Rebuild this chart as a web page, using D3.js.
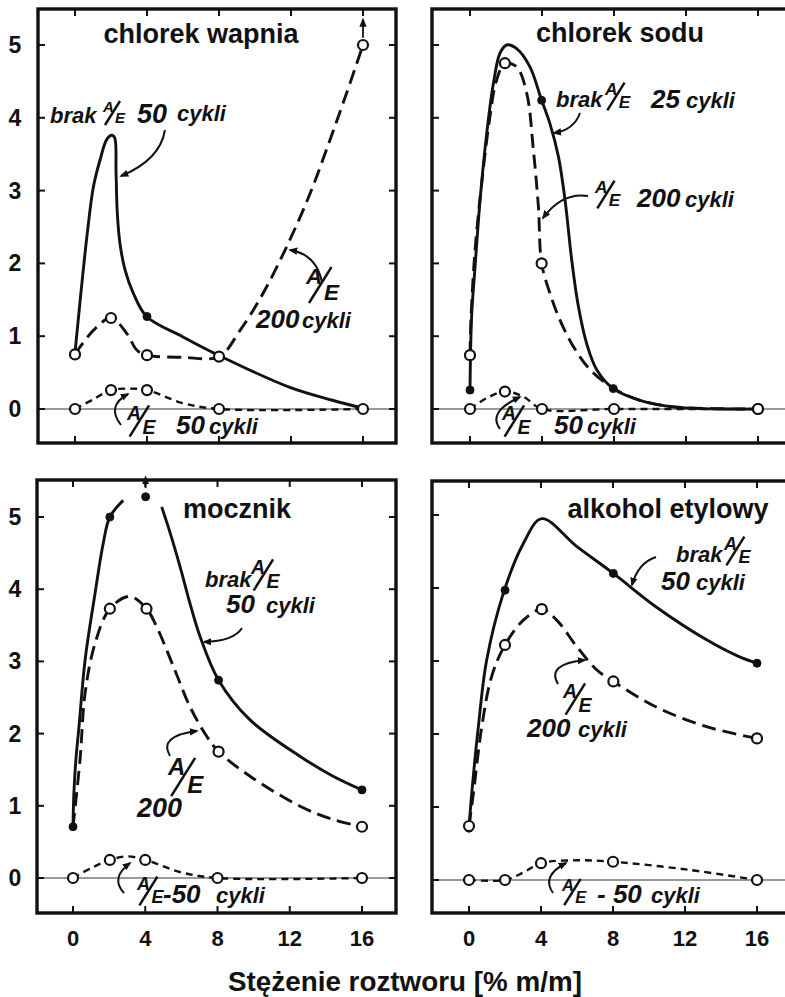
<!DOCTYPE html>
<html lang="pl">
<head>
<meta charset="UTF-8">
<title>Stężenie roztworu</title>
<script src="https://cdn.jsdelivr.net/npm/d3@7/dist/d3.min.js"></script>
<style>
  body { margin: 0; background: #fff; }
  svg text { font-family: "Liberation Sans", Arial, sans-serif; fill: #111; }
  .lab { font-style: italic; font-weight: bold; }
</style>
</head>
<body>
<svg id="chart" width="785" height="997"></svg>
<script>
// ---- data ----
var xTicks = [0, 4, 8, 12, 16];
var yTicks = [0, 1, 2, 3, 4, 5];
var panelTitles = ["chlorek wapnia", "chlorek sodu", "mocznik", "alkohol etylowy"];
var xTitle = "Stężenie roztworu [% m/m]";

// chlorek wapnia
var caNoAE = [[0,0.77],[0.33,1.6],[0.68,2.41],[1.02,3.05],[1.39,3.42],[1.76,3.70],[2.04,3.76],[2.2,3.73],[2.28,3.24],[2.35,2.69],[2.5,2.27],[2.78,1.91],[3.24,1.59],[3.98,1.27],[6.0,0.99],[7.96,0.74],[11.9,0.30],[14.3,0.12],[16,0.01]];
var caAE200 = [[0,0.75],[1.02,1.08],[2,1.25],[2.87,1.04],[3.43,0.81],[4,0.74],[6,0.71],[8,0.72],[9.17,1.08],[10.45,1.59],[11.76,2.23],[13.06,2.96],[14.17,3.70],[15.09,4.34],[16,5.0]];
var caAE50 = [[0,0],[1,0.13],[2,0.26],[3,0.28],[4,0.26],[6,0.08],[8,0],[16,0]];
var caNoAEDots = [[4,1.27],[16,0.01]];
var caAE200Dots = [[0,0.75],[2,1.25],[4,0.74],[8,0.72],[16,5.0]];
var caAE50Dots = [[0,0],[2,0.26],[4,0.26],[8,0],[16,0]];
var caUp = [[16,5.1,5.35]];

// chlorek sodu
var naNoAE = [[0,0.26],[0.09,1.27],[0.28,1.95],[0.56,2.87],[0.93,3.79],[1.3,4.47],[1.67,4.89],[2.04,5.0],[2.59,4.95],[3.33,4.7],[3.98,4.24],[4.44,3.92],[4.91,3.47],[5.28,2.87],[5.65,2.05],[6.02,1.41],[6.48,0.9],[7.04,0.54],[7.96,0.28],[9.44,0.12],[11.3,0.03],[14.1,0],[16,0]];
var naAE200 = [[0,0.74],[0.06,1.27],[0.28,2.18],[0.65,3.1],[1.11,4.02],[1.48,4.52],[1.94,4.75],[2.59,4.7],[3.15,4.34],[3.52,3.56],[3.8,2.78],[3.98,2.0],[4.44,1.59],[5.0,1.22],[5.74,0.86],[6.67,0.54],[8,0.28],[9.44,0.12],[11.3,0.03],[16,0]];
var naAE50 = [[0,0],[0.93,0.15],[1.94,0.24],[2.96,0.17],[4,0],[8,0],[16,0]];
var naNoAEDots = [[0,0.26],[3.98,4.24],[7.96,0.28]];
var naAE200Dots = [[0,0.74],[1.94,4.75],[3.98,2.0],[16,0]];
var naAE50Dots = [[0,0],[1.94,0.24],[4,0],[8,0],[16,0]];

// mocznik (brak A/E line has a gap around x = 4)
var urNoAE = [[0,0.71],[0.05,1.18],[0.16,1.64],[0.33,2.09],[0.67,3.02],[1.22,3.94],[1.67,4.63],[2.04,5.0],[2.78,5.23],null,[4.91,5.14],[5.39,4.77],[5.93,4.31],[6.48,3.8],[7.04,3.34],[8.06,2.74],[9.8,2.19],[12.6,1.68],[14.4,1.41],[16,1.22]];
var urAE200 = [[0,0.71],[0.39,1.64],[0.67,2.56],[1.22,3.25],[2.04,3.73],[3.15,3.9],[4.07,3.73],[4.63,3.48],[5.56,2.93],[6.48,2.37],[7.41,1.96],[8.06,1.75],[9.8,1.41],[12.6,0.99],[14.4,0.81],[16,0.71]];
var urAE50 = [[0,0],[1.1,0.15],[2.04,0.25],[3,0.3],[4,0.25],[5.96,0.08],[8,0],[16,0]];
var urNoAEDots = [[0,0.71],[2.04,5.0],[4.02,5.28],[8.06,2.74],[16,1.22]];
var urAE200Dots = [[2.04,3.73],[4.07,3.73],[8.06,1.75],[16,0.71]];
var urAE50Dots = [[0,0],[2.04,0.25],[4,0.25],[8,0],[16,0]];
var urUp = [[4.02,5.4,5.55]];

// alkohol etylowy
var etNoAE = [[0,0.71],[0.15,1.18],[0.52,2.1],[0.98,3.01],[1.91,3.93],[3.02,4.61],[4.04,4.95],[5.98,4.57],[8.02,4.2],[10.4,3.74],[13.2,3.29],[15.0,3.06],[16,2.97]];
var etAE200 = [[0,0.74],[0.24,1.18],[0.71,2.1],[1.26,2.79],[2.0,3.22],[3.02,3.56],[4.04,3.71],[4.87,3.56],[5.98,3.2],[7.09,2.88],[8.02,2.72],[10.4,2.37],[13.2,2.1],[16,1.94]];
var etAE50 = [[0,0],[2,0],[3,0.1],[4,0.23],[6,0.27],[8,0.25],[12.2,0.14],[16,0]];
var etNoAEDots = [[0,0.71],[2,3.97],[8.02,4.2],[16,2.97]];
var etAE200Dots = [[0,0.74],[2,3.22],[4.04,3.71],[8.02,2.72],[16,1.94]];
var etAE50Dots = [[0,0],[2,0],[4,0.23],[8,0.25],[16,0]];

// ---- layout ----
var panels = [
  { title: panelTitles[0], tx: 201, ty: 43, frame: [38, 396, 9, 443], xr: [75, 363], yr: [409, 45], yLabels: true, xLabels: false,
    series: [
      { pts: caNoAE, dots: caNoAEDots, kind: "solid" },
      { pts: caAE200, dots: caAE200Dots, kind: "long" },
      { pts: caAE50, dots: caAE50Dots, kind: "short" }], up: caUp },
  { title: panelTitles[1], tx: 620, ty: 42, frame: [432, 800, 9, 443], xr: [470, 758], yr: [409, 45], yLabels: false, xLabels: false,
    series: [
      { pts: naAE200, dots: naAE200Dots, kind: "long" },
      { pts: naNoAE, dots: naNoAEDots, kind: "solid" },
      { pts: naAE50, dots: naAE50Dots, kind: "short" }], up: [] },
  { title: panelTitles[2], tx: 237, ty: 518, frame: [37, 396, 480, 913], xr: [73, 362], yr: [878, 517], yLabels: true, xLabels: true,
    series: [
      { pts: urNoAE, dots: urNoAEDots, kind: "solid" },
      { pts: urAE200, dots: urAE200Dots, kind: "long" },
      { pts: urAE50, dots: urAE50Dots, kind: "short" }], up: urUp },
  { title: panelTitles[3], tx: 668, ty: 518, frame: [432, 800, 481, 913], xr: [469, 757], yr: [880, 515], yLabels: false, xLabels: true,
    series: [
      { pts: etNoAE, dots: etNoAEDots, kind: "solid" },
      { pts: etAE200, dots: etAE200Dots, kind: "long" },
      { pts: etAE50, dots: etAE50Dots, kind: "short" }], up: [] }
];

var dash = { solid: null, long: "14,7", short: "7,5" };
var lw = { solid: 2.9, long: 2.9, short: 2.4 };

var svg = d3.select("#chart");
svg.append("rect").attr("width", 785).attr("height", 997).attr("fill", "#fff");

var defs = svg.append("defs");
defs.append("marker").attr("id", "ah")
  .attr("viewBox", "0 0 10 10").attr("refX", 8).attr("refY", 5)
  .attr("markerUnits", "userSpaceOnUse").attr("markerWidth", 9).attr("markerHeight", 9)
  .attr("orient", "auto")
  .append("path").attr("d", "M0,1 L10,5 L0,9 Z").attr("fill", "#111");

panels.forEach(function(p) {
  var x = d3.scaleLinear().domain([0, 16]).range(p.xr);
  var y = d3.scaleLinear().domain([0, 5]).range(p.yr);
  var f = p.frame;
  var g = svg.append("g");

  // zero line
  g.append("line").attr("x1", f[0]).attr("x2", f[1]).attr("y1", y(0)).attr("y2", y(0))
    .attr("stroke", "#777").attr("stroke-width", 1.5);

  // inward ticks on all sides
  xTicks.forEach(function(t) {
    g.append("line").attr("x1", x(t)).attr("x2", x(t)).attr("y1", f[2]).attr("y2", f[2] + 7)
      .attr("stroke", "#111").attr("stroke-width", 2);
    g.append("line").attr("x1", x(t)).attr("x2", x(t)).attr("y1", f[3]).attr("y2", f[3] - 7)
      .attr("stroke", "#111").attr("stroke-width", 2);
  });
  yTicks.forEach(function(t) {
    g.append("line").attr("x1", f[0]).attr("x2", f[0] + 7).attr("y1", y(t)).attr("y2", y(t))
      .attr("stroke", "#111").attr("stroke-width", 2);
    g.append("line").attr("x1", f[1]).attr("x2", f[1] - 7).attr("y1", y(t)).attr("y2", y(t))
      .attr("stroke", "#111").attr("stroke-width", 2);
  });

  g.append("rect").attr("x", f[0]).attr("y", f[2]).attr("width", f[1] - f[0]).attr("height", f[3] - f[2])
    .attr("fill", "none").attr("stroke", "#111").attr("stroke-width", 3.4);

  if (p.yLabels) {
    g.selectAll(".yl").data(yTicks).enter().append("text")
      .attr("x", 15).attr("y", function(d) { return y(d) + 8; })
      .attr("text-anchor", "middle").attr("font-size", 23).attr("font-weight", "bold")
      .text(function(d) { return d; });
  }
  if (p.xLabels) {
    g.selectAll(".xl").data(xTicks).enter().append("text")
      .attr("x", function(d) { return x(d); }).attr("y", 946)
      .attr("text-anchor", "middle").attr("font-size", 22).attr("font-weight", "bold")
      .text(function(d) { return d; });
  }

  g.append("text").attr("x", p.tx).attr("y", p.ty).attr("text-anchor", "middle")
    .attr("font-size", 27).attr("font-weight", "bold").text(p.title);

  var line = d3.line()
    .defined(function(d) { return d !== null; })
    .x(function(d) { return x(d[0]); })
    .y(function(d) { return y(d[1]); })
    .curve(d3.curveCatmullRom.alpha(0.5));

  p.series.forEach(function(s) {
    g.append("path").attr("d", line(s.pts)).attr("fill", "none")
      .attr("stroke", "#111").attr("stroke-width", lw[s.kind])
      .attr("stroke-dasharray", dash[s.kind]).attr("stroke-linecap", "butt");
  });
  p.series.forEach(function(s) {
    g.selectAll(null).data(s.dots).enter().append("circle")
      .attr("cx", function(d) { return x(d[0]); })
      .attr("cy", function(d) { return y(d[1]); })
      .attr("r", s.kind === "solid" ? 4 : 5)
      .attr("fill", s.kind === "solid" ? "#111" : "#fff")
      .attr("stroke", "#111").attr("stroke-width", s.kind === "solid" ? 1 : 2.2);
  });
  p.up.forEach(function(u) {
    g.append("line").attr("x1", x(u[0])).attr("x2", x(u[0]))
      .attr("y1", y(u[1])).attr("y2", y(u[2]))
      .attr("stroke", "#111").attr("stroke-width", 1.8).attr("marker-end", "url(#ah)");
  });
});

// ---- hand lettered labels ----
function txt(x, y, s, size) {
  svg.append("text").attr("class", "lab").attr("x", x).attr("y", y)
    .attr("font-size", size).text(s);
}
function ae(x, y, k) {
  svg.append("text").attr("class", "lab").attr("x", x).attr("y", y - 11 * k)
    .attr("font-size", 15 * k).text("A");
  svg.append("line").attr("x1", x + 2 * k).attr("y1", y + 2 * k)
    .attr("x2", x + 17 * k).attr("y2", y - 22 * k)
    .attr("stroke", "#111").attr("stroke-width", 2.5);
  svg.append("text").attr("class", "lab").attr("x", x + 12 * k).attr("y", y)
    .attr("font-size", 15 * k).text("E");
}
function arrow(d) {
  svg.append("path").attr("d", d).attr("fill", "none").attr("stroke", "#111")
    .attr("stroke-width", 2).attr("marker-end", "url(#ah)");
}

// chlorek wapnia
txt(50, 123, "brak", 22); ae(103, 123, 1.0); txt(137, 123, "50", 27); txt(177, 121, "cykli", 22);
ae(306, 300, 1.5); txt(256, 328, "200", 26); txt(302, 328, "cykli", 22);
ae(127, 434, 1.3); txt(176, 434, "50", 26); txt(209, 434, "cykli", 22);
arrow("M165,130 Q160,160 121,176");
arrow("M322,282 Q316,254 290,250");
arrow("M121,425 Q106,406 128,394");

// chlorek sodu
txt(556, 107, "brak", 22); ae(605, 108, 1.15); txt(651, 108, "25", 26); txt(686, 108, "cykli", 22);
ae(595, 206, 1.15); txt(637, 207, "200", 26); txt(685, 207, "cykli", 22);
ae(502, 434, 1.3); txt(554, 434, "50", 26); txt(587, 434, "cykli", 22);
arrow("M580,113 Q574,130 554,133");
arrow("M588,196 Q562,192 543,218");
arrow("M500,429 Q487,412 520,397");

// mocznik
txt(205, 587, "brak", 22); ae(251, 588, 1.3); txt(226, 613, "50", 26); txt(266, 613, "cykli", 22);
ae(168, 793, 1.6); txt(137, 817, "200", 27);
ae(137, 903, 1.2); txt(163, 903, "-50", 26); txt(216, 903, "cykli", 22);
arrow("M242,628 Q234,641 204,642");
arrow("M170,756 Q158,736 197,731");
arrow("M124,893 Q110,878 130,863");

// alkohol etylowy
txt(676, 562, "brak", 22); ae(724, 563, 1.2); txt(661, 590, "50", 26); txt(696, 590, "cykli", 22);
ae(563, 712, 1.3); txt(527, 737, "200", 26); txt(578, 737, "cykli", 22);
ae(562, 903, 1.1); txt(597, 903, "- 50", 26); txt(651, 903, "cykli", 22);
arrow("M656,557 Q638,563 632,585");
arrow("M558,684 Q546,664 585,660");
arrow("M553,893 Q541,876 566,863");

svg.append("text").attr("x", 405).attr("y", 991).attr("text-anchor", "middle")
  .attr("font-size", 28).attr("font-weight", "bold")
  .attr("textLength", 354).attr("lengthAdjust", "spacingAndGlyphs")
  .text(xTitle);
</script>
</body>
</html>
